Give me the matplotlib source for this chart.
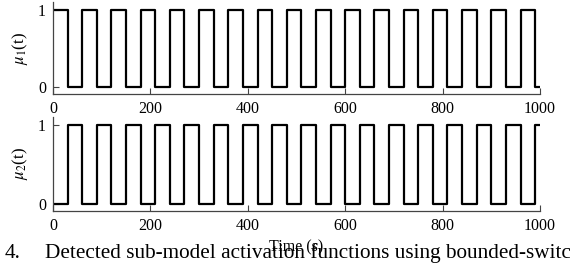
"""
Sub-model activation functions mu_1(t) and mu_2(t) over time.
"""

import matplotlib
matplotlib.use("Agg")
import matplotlib.pyplot as plt

# switching instants (s) and the level held from each instant to the next
t_switch = [0, 30, 60, 90, 120, 150, 180, 210, 240, 270, 300, 330,
            360, 390, 420, 450, 480, 510, 540, 570, 600, 630, 660, 690,
            720, 750, 780, 810, 840, 870, 900, 930, 960, 990, 1000]
mu1 = [1, 0, 1, 0, 1, 0, 1, 0, 1, 0, 1, 0, 1, 0, 1, 0, 1,
       0, 1, 0, 1, 0, 1, 0, 1, 0, 1, 0, 1, 0, 1, 0, 1, 0]
mu2 = [0, 1, 0, 1, 0, 1, 0, 1, 0, 1, 0, 1, 0, 1, 0, 1, 0,
       1, 0, 1, 0, 1, 0, 1, 0, 1, 0, 1, 0, 1, 0, 1, 0, 1]
x_ticks = [0, 200, 400, 600, 800, 1000]
y_ticks = [0, 1]

plt.rcParams['font.family'] = 'Liberation Serif'
plt.rcParams['mathtext.fontset'] = 'stix'

W, H = 570, 265
fig = plt.figure(figsize=(W / 100, H / 100), dpi=100)

ax1 = fig.add_axes([53 / W, (H - 94) / H, 487 / W, 91.8 / H])
ax2 = fig.add_axes([53 / W, (H - 210.7) / H, 487 / W, 93.4 / H])

for ax, vals, lbl, ylim in [(ax1, mu1, r'$\mu_1$(t)', (-0.085, 1.1)),
                            (ax2, mu2, r'$\mu_2$(t)', (-0.09, 1.1))]:
    ax.step(t_switch, vals + [vals[-1]], where='post', color='black', lw=1.6)
    ax.set_xlim(0, 1000)
    ax.set_ylim(*ylim)
    ax.set_xticks(x_ticks)
    ax.set_yticks(y_ticks)
    ax.tick_params(direction='in', length=4, width=0.8, color='#444444',
                   labelsize=11.5, pad=5)
    for side in ['top', 'right']:
        ax.spines[side].set_visible(False)
    for side in ['left', 'bottom']:
        ax.spines[side].set_color('#444444')
        ax.spines[side].set_linewidth(0.9)
    ax.set_ylabel(lbl, fontsize=12)
    ax.yaxis.set_label_coords(-0.048, 0.5)

fig.text(296 / W, (H - 251) / H, 'Time (s)', ha='center', va='baseline', fontsize=11.5)

# caption line from the page, cut off at the right edge
fig.text(5 / W, (H - 258) / H, '4.', ha='left', va='baseline', fontsize=15.3)
fig.text(45 / W, (H - 258) / H, 'Detected sub-model activation functions using bounded-switching',
         ha='left', va='baseline', fontsize=15.3)

fig.savefig('out.png', dpi=100)
